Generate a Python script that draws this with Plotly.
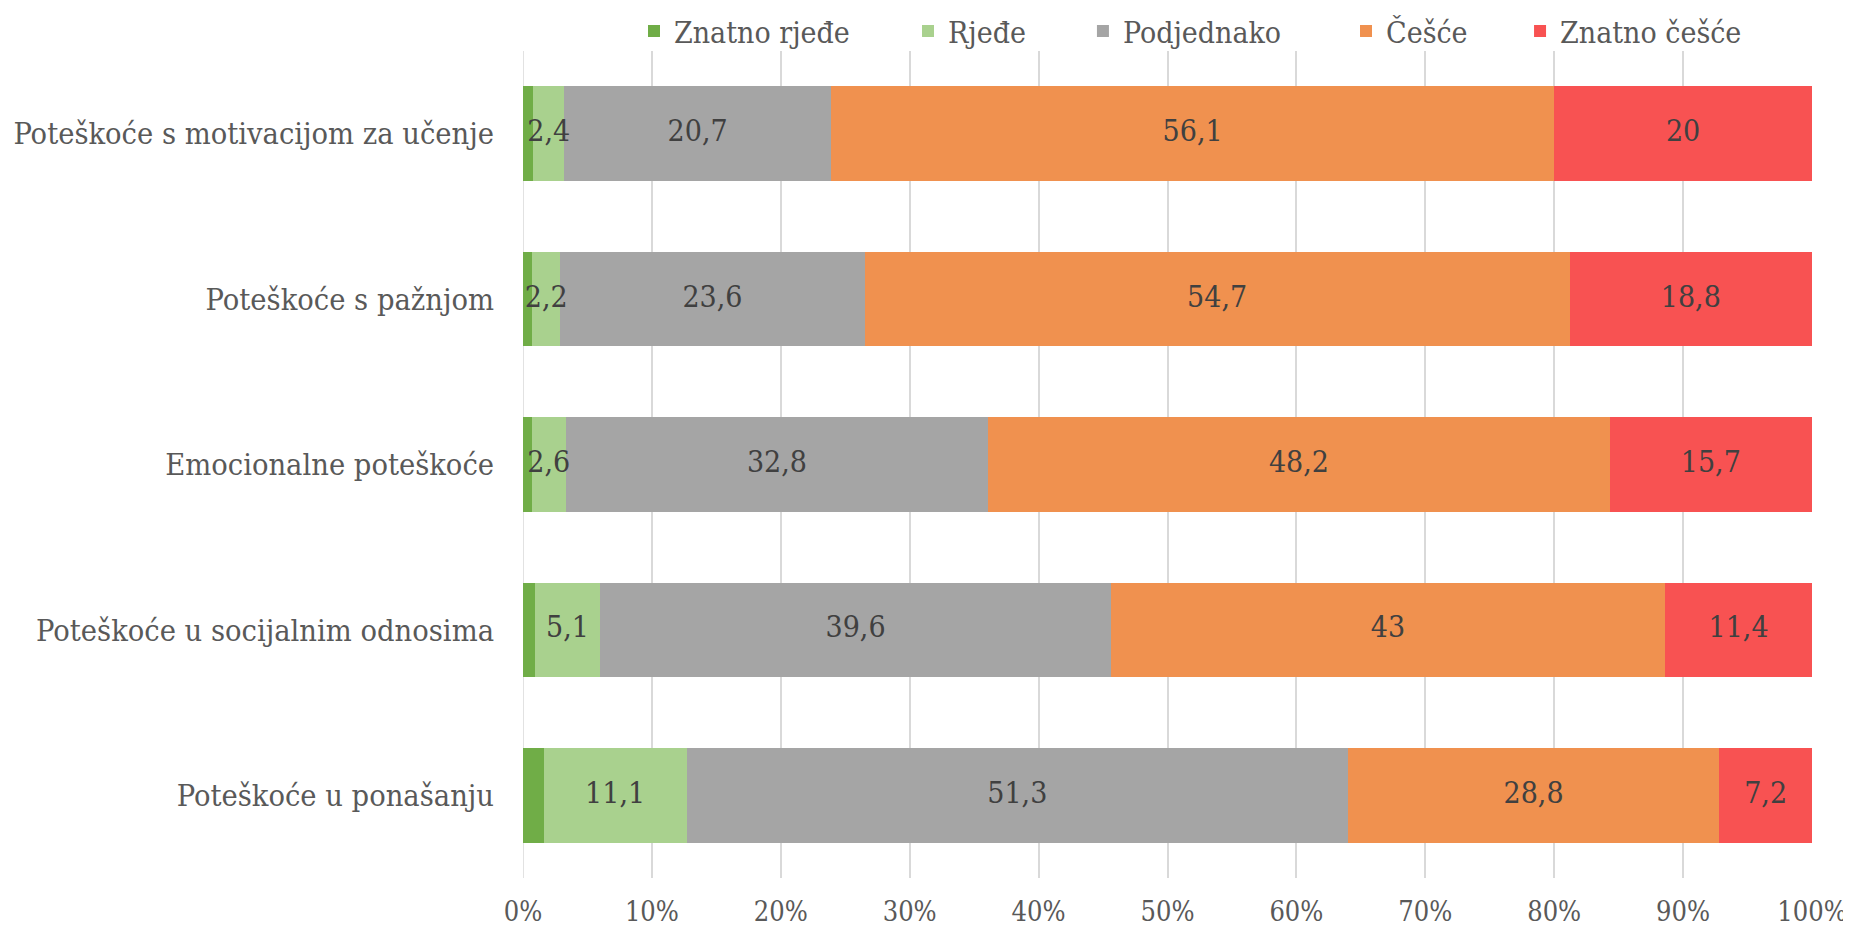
import plotly.graph_objects as go

categories = [
    "Poteškoće s motivacijom za učenje",
    "Poteškoće s pažnjom",
    "Emocionalne poteškoće",
    "Poteškoće u socijalnim odnosima",
    "Poteškoće u ponašanju",
]
series_names = ["Znatno rjeđe", "Rjeđe", "Podjednako", "Češće", "Znatno češće"]
znatno_rjede = [0.8, 0.7, 0.7, 0.9, 1.6]
rjede = [2.4, 2.2, 2.6, 5.1, 11.1]
podjednako = [20.7, 23.6, 32.8, 39.6, 51.3]
cesce = [56.1, 54.7, 48.2, 43, 28.8]
znatno_cesce = [20, 18.8, 15.7, 11.4, 7.2]
tick_vals = [0, 10, 20, 30, 40, 50, 60, 70, 80, 90, 100]
tick_text = ["0%", "10%", "20%", "30%", "40%", "50%", "60%", "70%", "80%", "90%", "100%"]

colors = ["#70AD47", "#A9D18E", "#A5A5A5", "#F0914F", "#F85252"]
show_labels = [False, True, True, True, True]
legend_x = [0.0861, 0.2987, 0.4344, 0.6385, 0.7735]
legend_ids = ["legend", "legend2", "legend3", "legend4", "legend5"]
FONT = "DejaVu Serif Condensed, DejaVu Serif, Liberation Serif, serif"

def fmt(v):
    s = ("%g" % v)
    return s.replace(".", ",")

all_series = [znatno_rjede, rjede, podjednako, cesce, znatno_cesce]

fig = go.Figure()
for name, vals, col, lid in zip(series_names, all_series, colors, legend_ids):
    fig.add_trace(go.Bar(
        y=categories, x=vals, name=name, orientation="h",
        marker=dict(color=col, line=dict(width=0)),
        legend=lid, hoverinfo="x+y+name",
    ))

# data labels drawn on top of all bars (centered in each segment)
base = [0.0] * len(categories)
for vals, lab in zip(all_series, show_labels):
    mids = [b + v / 2 for b, v in zip(base, vals)]
    if lab:
        fig.add_trace(go.Scatter(
            x=mids, y=categories, mode="text",
            text=[fmt(v) for v in vals], textposition="middle center",
            textfont=dict(family=FONT, size=30, color="#404040"),
            showlegend=False, hoverinfo="skip", cliponaxis=False,
        ))
    base = [b + v for b, v in zip(base, vals)]

legend_layout = {}
for lid, lx in zip(legend_ids, legend_x):
    legend_layout[lid] = dict(orientation="h", x=lx, xanchor="left", y=1.0242, yanchor="middle",
                              font=dict(family=FONT, size=30, color="#595959"),
                              itemwidth=30, bgcolor="rgba(0,0,0,0)")

fig.update_layout(
    barmode="stack",
    bargap=0.427,
    width=1843, height=919,
    paper_bgcolor="white", plot_bgcolor="white",
    margin=dict(l=515, r=39, t=43, b=49, autoexpand=False),
    font=dict(family=FONT, size=30, color="#595959"),
    showlegend=True,
    xaxis=dict(range=[0, 100], tickvals=tick_vals, ticktext=tick_text,
               showgrid=True, gridcolor="#D9D9D9", gridwidth=1.5,
               zeroline=False, showline=False, ticks="", ticklabelstandoff=15,
               automargin=False,
               tickfont=dict(family=FONT, size=27, color="#595959")),
    yaxis=dict(autorange="reversed", showgrid=False, zeroline=False, showline=False,
               ticks="", ticklabelstandoff=28, automargin=False,
               tickfont=dict(family=FONT, size=30.5, color="#595959")),
    **legend_layout,
)
fig.add_shape(type="line", xref="x", yref="paper", x0=0, x1=0, y0=0, y1=1,
              line=dict(color="#D9D9D9", width=1.5), layer="below")
fig.write_html("out.html")
